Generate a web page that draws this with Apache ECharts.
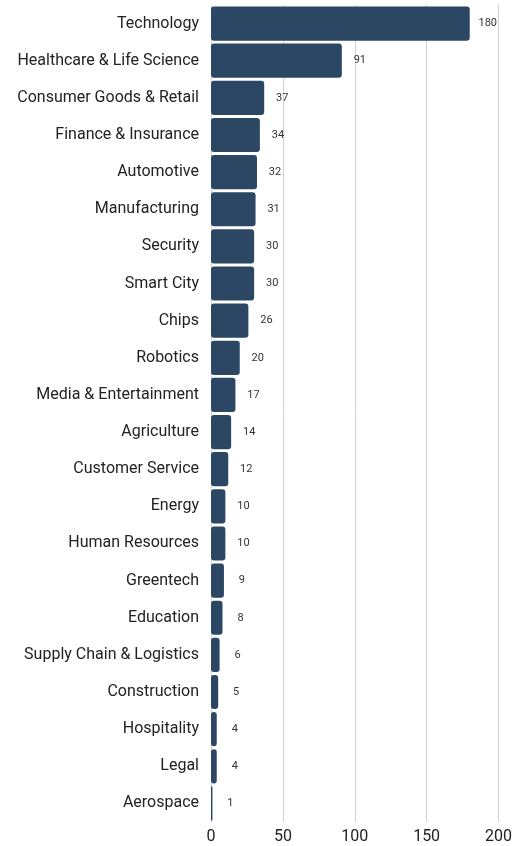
<!DOCTYPE html>
<html>
<head>
<meta charset="utf-8">
<script src="https://cdn.jsdelivr.net/npm/echarts@6/dist/echarts.min.js"></script>
<style>
  html, body { margin: 0; padding: 0; background: #fff; }
  #chart { width: 526px; height: 846px; }
</style>
</head>
<body>
<div id="chart"></div>
<script>
// Industries and their counts, top to bottom
const categories = [
  'Technology', 'Healthcare & Life Science', 'Consumer Goods & Retail',
  'Finance & Insurance', 'Automotive', 'Manufacturing', 'Security',
  'Smart City', 'Chips', 'Robotics', 'Media & Entertainment', 'Agriculture',
  'Customer Service', 'Energy', 'Human Resources', 'Greentech', 'Education',
  'Supply Chain & Logistics', 'Construction', 'Hospitality', 'Legal', 'Aerospace'
];
const counts = [180, 91, 37, 34, 32, 31, 30, 30, 26, 20, 17, 14, 12, 10, 10, 9, 8, 6, 5, 4, 4, 1];
const xTicks = [0, 50, 100, 150, 200];

const chart = echarts.init(document.getElementById('chart'), null, { renderer: 'canvas' });
chart.setOption({
  animation: false,
  grid: { left: 211, right: 27.5, top: 5, bottom: 24, containLabel: false },
  xAxis: {
    type: 'value',
    min: xTicks[0],
    max: xTicks[xTicks.length - 1],
    interval: 50,
    axisLine: { show: false },
    axisTick: { show: false },
    axisLabel: { color: '#222', fontSize: 16, fontFamily: 'Roboto', margin: 7 },
    splitLine: { show: true, lineStyle: { color: '#d0d0d0', width: 1 } }
  },
  yAxis: {
    type: 'category',
    data: categories,
    inverse: true,
    axisLine: { show: false },
    axisTick: { show: false },
    axisLabel: { color: '#222', fontSize: 16, fontFamily: 'Roboto', margin: 12 }
  },
  series: [{
    type: 'bar',
    data: counts,
    barCategoryGap: '8%',
    itemStyle: { color: '#2c4763', borderRadius: 3 },
    label: {
      show: true,
      position: 'right',
      distance: 18,
      align: 'center',
      color: '#333',
      fontSize: 11,
      fontFamily: 'Roboto'
    }
  }]
});
</script>
</body>
</html>
